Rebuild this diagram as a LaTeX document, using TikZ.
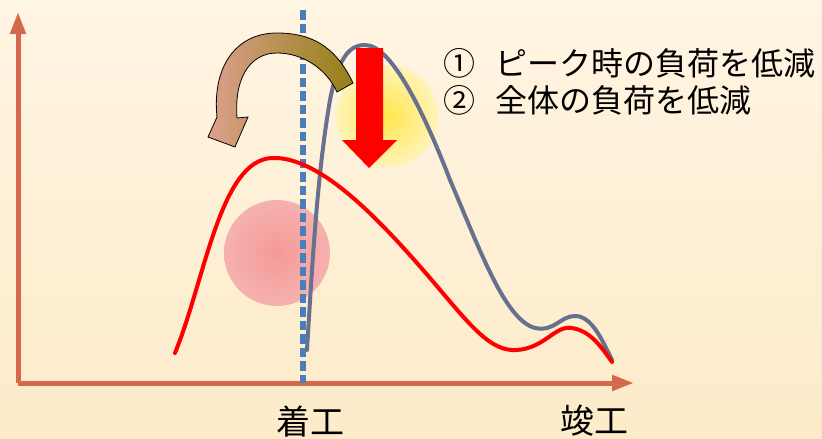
\documentclass[tikz,border=0pt]{standalone}
\usepackage{fontspec}
\newfontfamily\jpfont{Noto Sans CJK JP}
\usepackage{xcolor}
\usetikzlibrary{arrows.meta}
\definecolor{BgTop}{HTML}{FFF5E3}
\definecolor{BgBottom}{HTML}{FDEBC9}
\definecolor{AxisRust}{HTML}{D6694D}
\definecolor{StartBlue}{HTML}{4A7EBB}
\definecolor{PlanGrey}{HTML}{67708E}
\definecolor{LevelRed}{HTML}{FF0000}
\definecolor{ArcPink}{HTML}{DCA08E}
\definecolor{ArcOlive}{HTML}{958015}
\definecolor{PinkIn}{HTML}{F59A96}
\definecolor{PinkOut}{HTML}{F6C9C8}
\definecolor{GlowIn}{HTML}{FFE64C}
\definecolor{GlowMid}{HTML}{FFF3B4}
\definecolor{GlowOut}{HTML}{FFFAEA}
\pgfdeclareradialshading{PinkGlow}{\pgfpoint{0bp}{0bp}}{color(0bp)=(PinkIn); color(50bp)=(PinkOut)}
\pgfdeclareradialshading{YellowGlow}{\pgfpoint{0bp}{0bp}}{color(0bp)=(GlowIn); color(24bp)=(GlowMid); color(50bp)=(GlowOut)}

\begin{document}
\begin{tikzpicture}[
  x=1pt, y=-1pt,
  axis/.style={line width=5pt, draw=AxisRust, -{Triangle[length=22pt,width=15pt]}},
  curve/.style={line width=4pt, line join=round, line cap=round},
  label/.style={font=\jpfont\fontsize{34}{40}\selectfont, inner sep=0pt},
  note/.style={font=\jpfont\fontsize{32}{38}\selectfont, inner sep=0pt, anchor=west}
]
\useasboundingbox (0,0) rectangle (822,439);
\shade[top color=BgTop, bottom color=BgBottom] (0,0) rectangle (822,439);
% glows
\shade[shading=YellowGlow] (387,116) circle (51);
\shade[shading=PinkGlow] (277,253) circle (53);
% axes
\coordinate (origin) at (18,383);
\coordinate (ytip) at (18,12);
\coordinate (xtip) at (634,383);
\draw[axis] (origin) -- (ytip);
\draw[axis] (origin) -- (xtip);
% start of works
\coordinate (starttop) at (303,10);
\coordinate (startfoot) at (303,383);
\draw[StartBlue, line width=6pt, dash pattern=on 9.5pt off 4pt] (starttop) -- (startfoot);
% planned load
\draw[curve, PlanGrey] (307,350) .. controls (313,250) and (318,170) .. (330,100)
  .. controls (338,60) and (348,45) .. (365,45)
  .. controls (392,45) and (425,115) .. (450,180)
  .. controls (480,250) and (505,320) .. (535,328)
  .. controls (555,332) and (560,316) .. (575,316)
  .. controls (592,316) and (602,340) .. (612,360);
% levelled load
\draw[curve, LevelRed] (175,353) .. controls (205,280) and (220,160) .. (272,158)
  .. controls (320,156) and (380,220) .. (430,278)
  .. controls (470,325) and (490,352) .. (517,350)
  .. controls (545,348) and (555,325) .. (572,328)
  .. controls (590,331) and (600,345) .. (612,362);
% peak cut
\fill[LevelRed] (356,48) -- (383,48) -- (383,140) -- (397,140) -- (369,168)
  -- (342,140) -- (356,140) -- cycle;
% shift to earlier
\shadedraw[left color=ArcPink, right color=ArcOlive, draw=black, line width=0.8pt]
  (353,83) .. controls (335,45) and (310,33) .. (277,33)
  .. controls (235,33) and (212,68) .. (217,117)
  -- (208,137) -- (235,147) -- (248,117) -- (237,118)
  .. controls (234,78) and (250,53) .. (277,53)
  .. controls (302,53) and (326,68) .. (337,92) -- cycle;
% texts
\node[note] (peaktext) at (443,63) {①\hspace{0.62em}ピーク時の負荷を低減};
\node[note] (totaltext) at (443,100) {②\hspace{0.62em}全体の負荷を低減};
\node[label] (start) at (310,421) {着工};
\node[label] (finish) at (594,421) {竣工};
\end{tikzpicture}
\end{document}
